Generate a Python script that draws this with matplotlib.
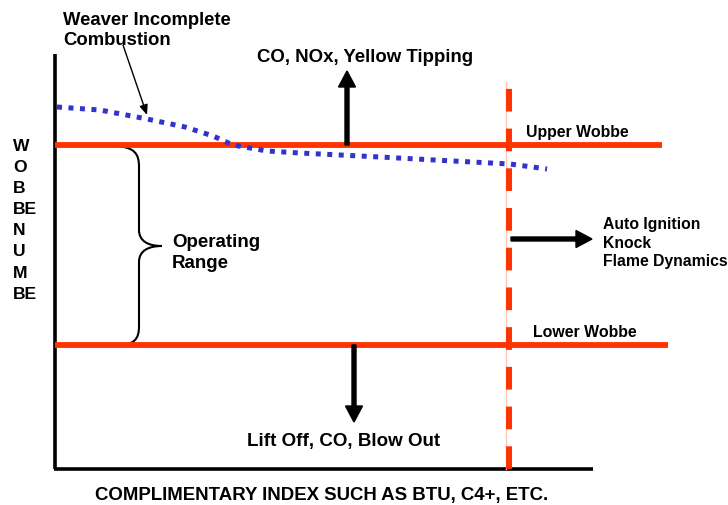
import matplotlib
matplotlib.use("Agg")
import matplotlib.pyplot as plt
from matplotlib.path import Path
from matplotlib.patches import PathPatch

plt.rcParams['font.family'] = ['Liberation Sans', 'DejaVu Sans']

# ---- schematic data (pixel-like canvas coordinates) ----
axis_origin = (55, 470)
y_axis_top = 55
x_axis_right = 593
upper_wobbe_y = 146
lower_wobbe_y = 346
upper_wobbe_right = 662
lower_wobbe_right = 668
limit_x = 509
limit_top = 83

weaver_x = [57, 100, 147, 185, 213, 233, 267, 300, 380, 453, 510, 547]
weaver_y = [108, 111, 120, 128, 137, 146, 152, 154, 158, 162, 165, 170]

ylabel_letters = ["W", "O", "B", "BE", "N", "U", "M", "BE"]
xlabel_text = "COMPLIMENTARY INDEX SUCH AS BTU, C4+, ETC."
top_effect = "CO, NOx, Yellow Tipping"
bottom_effect = "Lift Off, CO, Blow Out"
right_effects = ["Auto Ignition", "Knock", "Flame Dynamics"]
weaver_label = ["Weaver Incomplete", "Combustion"]
range_label = ["Operating", "Range"]

RED = "#FF3300"
BLUE = "#3333CC"

fig = plt.figure(figsize=(7.28, 5.06), dpi=100)
ax = fig.add_axes([0, 0, 1, 1])
ax.set_xlim(0, 728)
ax.set_ylim(506, 0)
ax.axis("off")

# axes
ax.plot([axis_origin[0], axis_origin[0]], [y_axis_top, axis_origin[1]], color="black", lw=2.6, solid_capstyle="butt")
ax.plot([axis_origin[0] - 1, x_axis_right], [axis_origin[1], axis_origin[1]], color="black", lw=2.6, solid_capstyle="butt")

# wobbe limits
ax.plot([axis_origin[0], upper_wobbe_right], [upper_wobbe_y, upper_wobbe_y], color=RED, lw=4.2, solid_capstyle="butt", zorder=3)
ax.plot([axis_origin[0], lower_wobbe_right], [lower_wobbe_y, lower_wobbe_y], color=RED, lw=4.2, solid_capstyle="butt", zorder=3)

# vertical limit (pale line + dashes)
ax.plot([limit_x - 3, limit_x - 3], [axis_origin[1], limit_top], color="#FFC8BC", lw=1.0, zorder=2)
ax.plot([limit_x, limit_x], [axis_origin[1], limit_top], color=RED, lw=4.3,
        linestyle=(0, (3.8, 2.85)), dash_capstyle="butt", zorder=4)

# weaver incomplete combustion curve
ax.plot(weaver_x, weaver_y, color=BLUE, lw=3.6, linestyle=(0, (1, 1.3)),
        dash_capstyle="butt", zorder=5)

# arrows
ax.arrow(347, upper_wobbe_y, 0, -(upper_wobbe_y - 72), width=4, head_width=17, head_length=16,
         length_includes_head=True, color="black", zorder=6)
ax.arrow(354, lower_wobbe_y, 0, 423 - lower_wobbe_y, width=4, head_width=17, head_length=16,
         length_includes_head=True, color="black", zorder=6)
ax.arrow(limit_x + 2, 240, 592 - limit_x - 2, 0, width=4, head_width=17, head_length=16,
         length_includes_head=True, color="black", zorder=6)
ax.annotate("", xy=(147, 116), xytext=(123, 46),
            arrowprops=dict(arrowstyle="-|>,head_length=0.6,head_width=0.25", lw=1.0,
                            color="black", shrinkA=0, shrinkB=0))

# brace
verts = [(115, 147), (135, 148), (139, 155), (139, 168),
         (139, 231),
         (139, 242), (148, 247), (162, 247),
         (148, 247), (139, 252), (139, 263),
         (139, 327),
         (139, 340), (135, 346), (115, 347)]
codes = [Path.MOVETO, Path.CURVE4, Path.CURVE4, Path.CURVE4,
         Path.LINETO,
         Path.CURVE4, Path.CURVE4, Path.CURVE4,
         Path.CURVE4, Path.CURVE4, Path.CURVE4,
         Path.LINETO,
         Path.CURVE4, Path.CURVE4, Path.CURVE4]
ax.add_patch(PathPatch(Path(verts, codes), fill=False, lw=1.5, edgecolor="black"))

bold = dict(fontweight="bold", color="black")

# texts
for i, line in enumerate(weaver_label):
    ax.text(63, 25 + 20 * i, line, fontsize=13.3, ha="left", va="baseline", **bold)
ax.text(365, 62, top_effect, fontsize=13.4, ha="center", va="baseline", **bold)
ax.text(344, 446, bottom_effect, fontsize=13.5, ha="center", va="baseline", **bold)
for i, line in enumerate(range_label):
    ax.text(172, 247 + 21 * i, line, fontsize=13.5, ha="left", va="baseline", **bold)
ax.text(526, 137, "Upper Wobbe", fontsize=11.4, ha="left", va="baseline", **bold)
ax.text(533, 337, "Lower Wobbe", fontsize=11.4, ha="left", va="baseline", **bold)
for i, line in enumerate(right_effects):
    ax.text(603, 229 + 18.5 * i, line, fontsize=11.3, ha="left", va="baseline", **bold)
for i, letter in enumerate(ylabel_letters):
    ax.text(13, 151 + 21.1 * i, letter, fontsize=12.6, ha="left", va="baseline", **bold)
ax.text(322, 500, xlabel_text, fontsize=13.4, ha="center", va="baseline", **bold)

fig.savefig("out.png", dpi=100)
